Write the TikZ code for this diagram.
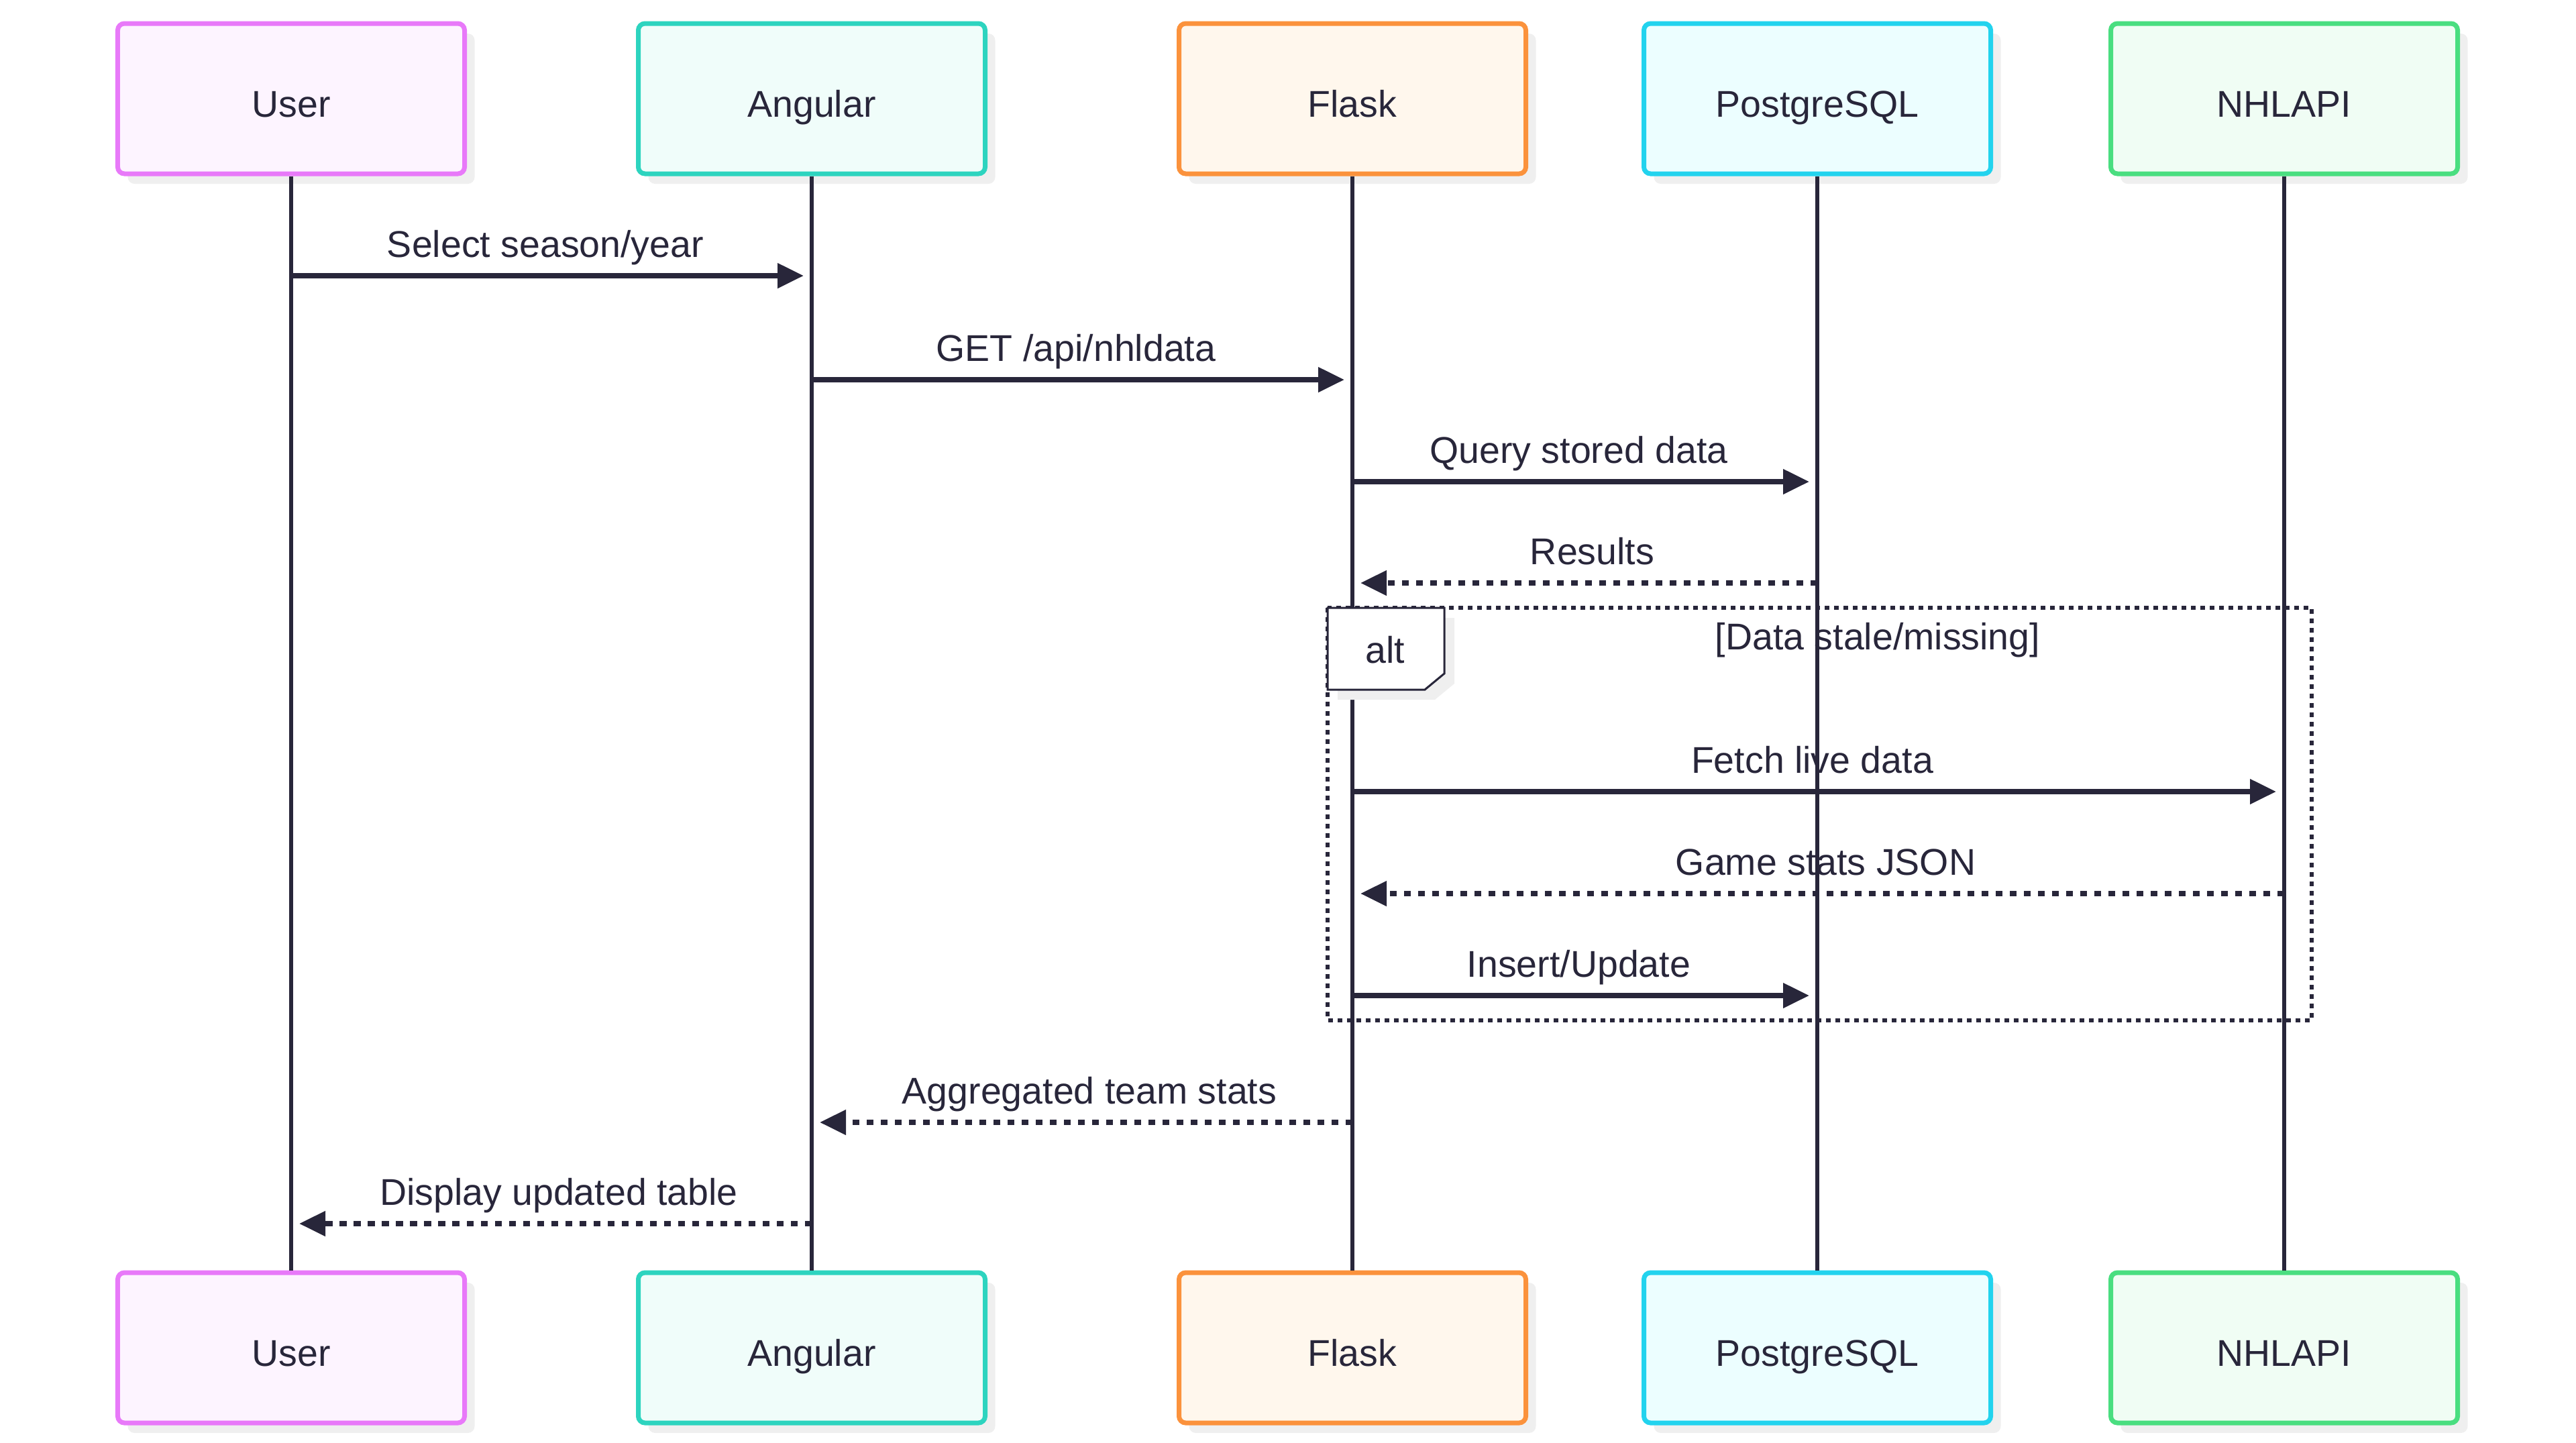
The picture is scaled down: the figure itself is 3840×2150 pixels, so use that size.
\documentclass[tikz,border=0pt]{standalone}
\usepackage{fontspec}
\setmainfont{Liberation Sans}
\definecolor{InkColor}{RGB}{40,38,58}
\definecolor{UserColor}{RGB}{232,121,249}
\definecolor{UserFill}{RGB}{253,244,255}
\definecolor{AngularColor}{RGB}{45,212,191}
\definecolor{AngularFill}{RGB}{240,253,250}
\definecolor{FlaskColor}{RGB}{251,146,60}
\definecolor{FlaskFill}{RGB}{255,247,237}
\definecolor{PostgresColor}{RGB}{34,211,238}
\definecolor{PostgresFill}{RGB}{236,254,255}
\definecolor{NhlColor}{RGB}{74,222,128}
\definecolor{NhlFill}{RGB}{240,253,244}
\definecolor{ShadowColor}{RGB}{239,239,239}
\usepackage{tikz}
\usetikzlibrary{positioning, arrows.meta, shadows, calc}
\tikzstyle{msg} = [line width=1.5pt, InkColor, -{Triangle[length=7.8pt,width=7.2pt]}, shorten >=2.4pt]
\tikzstyle{reply} = [msg, dash pattern=on 2.1pt off 2.1pt]
\tikzset{
  actor/.style={rectangle, rounded corners=2pt, minimum width=103.4pt, minimum height=44.8pt, line width=1.4pt, text=InkColor, text height=13pt, text depth=2.2pt, drop shadow={shadow xshift=3pt, shadow yshift=-3pt, fill=ShadowColor, opacity=1}},
  lifeline/.style={line width=1.1pt, InkColor},
  msglabel/.style={anchor=base, inner sep=0pt, text=InkColor, yshift=5.6pt, xshift=-1.8pt},
  replylabel/.style={msglabel, xshift=4pt},
  altframe/.style={line width=1.3pt, InkColor, dash pattern=on 1.4pt off 1.4pt},
  altlabel/.style={line width=0.6pt, draw=InkColor, fill=white, drop shadow={shadow xshift=3pt, shadow yshift=-3pt, fill=ShadowColor, opacity=1}}
}
\begin{document}
\begin{tikzpicture}[x=0.2pt, y=-0.2pt, font=\fontsize{11.1}{13.3}\selectfont]
    \useasboundingbox (0,0) rectangle (3840,2150);

    % Participants, top row
    \node[actor, draw=UserColor, fill=UserFill] (User) at (434,147) {User};
    \node[actor, draw=AngularColor, fill=AngularFill] (Angular) at (1210,147) {Angular};
    \node[actor, draw=FlaskColor, fill=FlaskFill] (Flask) at (2016,147) {Flask};
    \node[actor, draw=PostgresColor, fill=PostgresFill] (Postgres) at (2709,147) {PostgreSQL};
    \node[actor, draw=NhlColor, fill=NhlFill] (NHLAPI) at (3405,147) {NHLAPI};

    % Participants, bottom row
    \node[actor, draw=UserColor, fill=UserFill] (UserB) at (434,2009) {User};
    \node[actor, draw=AngularColor, fill=AngularFill] (AngularB) at (1210,2009) {Angular};
    \node[actor, draw=FlaskColor, fill=FlaskFill] (FlaskB) at (2016,2009) {Flask};
    \node[actor, draw=PostgresColor, fill=PostgresFill] (PostgresB) at (2709,2009) {PostgreSQL};
    \node[actor, draw=NhlColor, fill=NhlFill] (NHLAPIB) at (3405,2009) {NHLAPI};

    % Alt frame and its condition
    \draw[altframe] (1979,906) rectangle (3446,1521);
    \node[anchor=base, inner sep=0pt, text=InkColor] (altCond) at (2799,968) {[Data stale/missing]};

    % Message rows
    \coordinate (r1) at (0,411);
    \coordinate (r2) at (0,566);
    \coordinate (r3) at (0,718);
    \coordinate (r4) at (0,869);
    \coordinate (r5) at (0,1180);
    \coordinate (r6) at (0,1332);
    \coordinate (r7) at (0,1484);
    \coordinate (r8) at (0,1673);
    \coordinate (r9) at (0,1824);

    % Messages
    \draw[msg] (User |- r1) -- (Angular |- r1) node[msglabel, midway] (m1) {Select season/year};
    \draw[msg] (Angular |- r2) -- (Flask |- r2) node[msglabel, midway] (m2) {GET /api/nhldata};
    \draw[msg] (Flask |- r3) -- (Postgres |- r3) node[msglabel, midway] (m3) {Query stored data};
    \draw[reply] (Postgres |- r4) -- (Flask |- r4) node[replylabel, midway] (m4) {Results};
    \draw[msg] (Flask |- r5) -- (NHLAPI |- r5) node[msglabel, midway] (m5) {Fetch live data};
    \draw[reply] (NHLAPI |- r6) -- (Flask |- r6) node[replylabel, midway] (m6) {Game stats JSON};
    \draw[msg] (Flask |- r7) -- (Postgres |- r7) node[msglabel, midway] (m7) {Insert/Update};
    \draw[reply] (Flask |- r8) -- (Angular |- r8) node[replylabel, midway] (m8) {Aggregated team stats};
    \draw[reply] (Angular |- r9) -- (User |- r9) node[replylabel, midway] (m9) {Display updated table};

    % Lifelines
    \draw[lifeline] (User) -- (UserB);
    \draw[lifeline] (Angular) -- (AngularB);
    \draw[lifeline] (Flask) -- (FlaskB);
    \draw[lifeline] (Postgres) -- (PostgresB);
    \draw[lifeline] (NHLAPI) -- (NHLAPIB);

    % Alt tag
    \path[altlabel] (1979,906) -- (2153,906) -- (2153,1004) -- (2124,1028) -- (1979,1028) -- cycle;
    \node[anchor=base, inner sep=0pt, text=InkColor] (altTag) at (2065,988) {alt};
\end{tikzpicture}
\end{document}
